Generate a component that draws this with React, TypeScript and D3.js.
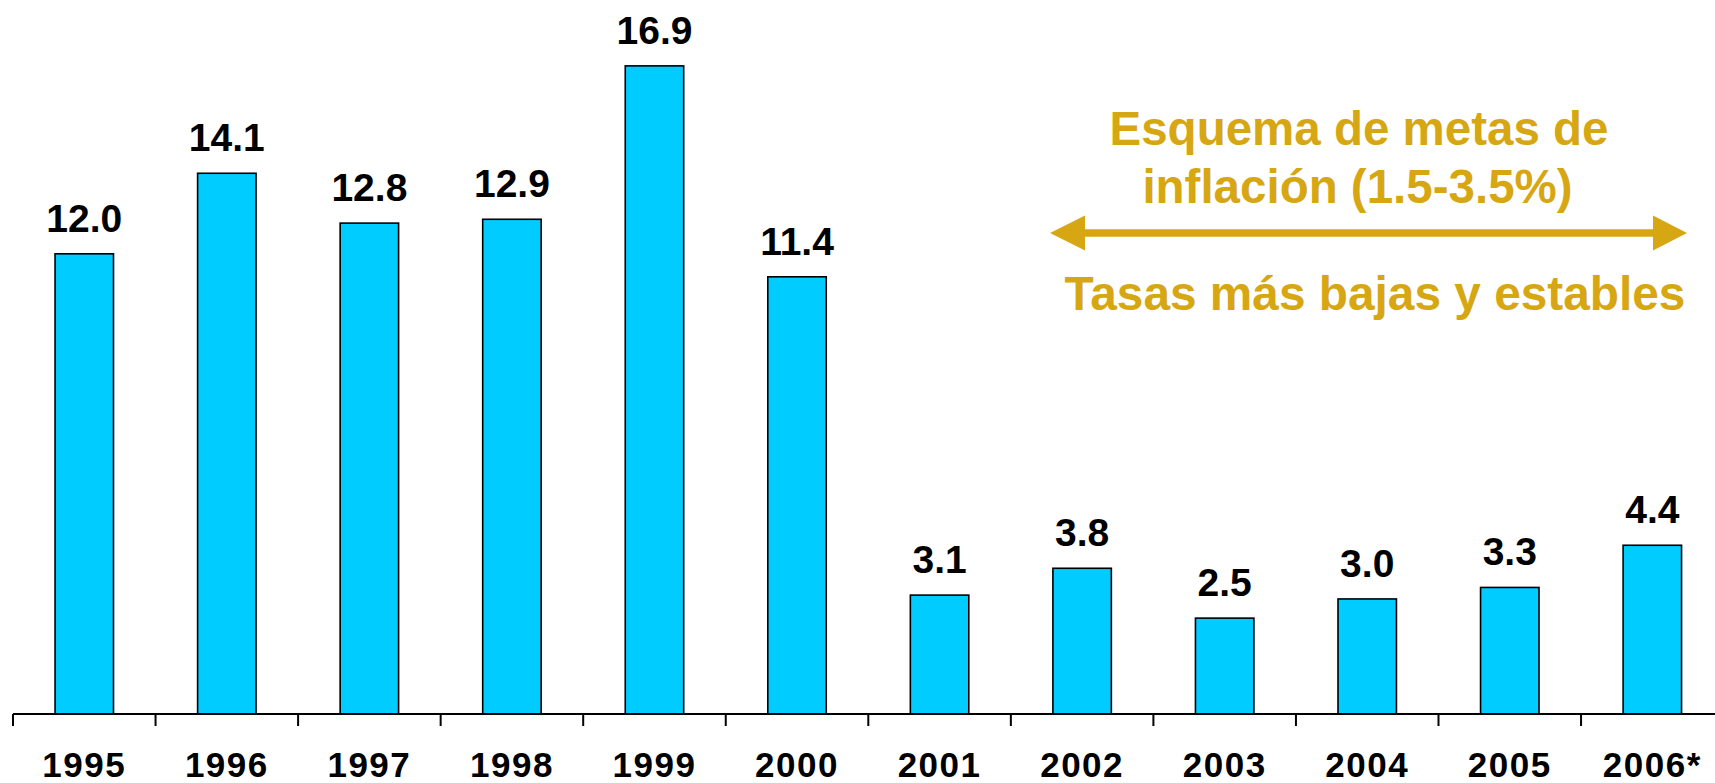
import React from "react";
import * as d3 from "d3";

const years = ["1995", "1996", "1997", "1998", "1999", "2000", "2001", "2002", "2003", "2004", "2005", "2006*"];
const values = [12.0, 14.1, 12.8, 12.9, 16.9, 11.4, 3.1, 3.8, 2.5, 3.0, 3.3, 4.4];
const annotationLines = ["Esquema de metas de", "inflación (1.5-3.5%)"];
const annotationBottom = "Tasas más bajas y estables";

const W = 1715;
const H = 783;
const baseY = 714;
const left = 13;
const step = 142.55;
const FONT = "'Liberation Sans', Arial, Helvetica, sans-serif";
const GOLD = "#D6A712";

export default function App() {
  const x = d3
    .scaleBand<string>()
    .domain(years)
    .range([left, left + step * years.length])
    .paddingInner(0.59)
    .paddingOuter(0.295);
  const y = d3.scaleLinear().domain([0, 18]).range([baseY, baseY - 18 * 38.35]);

  const boundaries = years.map((_, i) => left + i * x.step());
  boundaries.push(left + years.length * x.step());

  return (
    <div style={{ position: "fixed", left: 0, top: 0 }}>
      <svg width={W} height={H} style={{ display: "block", background: "#fff" }}>
        {values.map((v, i) => (
          <g key={years[i]}>
            <rect
              x={x(years[i])}
              y={y(v)}
              width={x.bandwidth()}
              height={y(0) - y(v)}
              fill="#00CCFF"
              stroke="#000"
              strokeWidth={1.6}
            />
            <text
              x={(x(years[i]) as number) + x.bandwidth() / 2}
              y={y(v) - 22}
              textAnchor="middle"
              fontFamily={FONT}
              fontWeight="bold"
              fontSize={39}
              fill="#000"
            >
              {v.toFixed(1)}
            </text>
            <text
              x={(x(years[i]) as number) + x.bandwidth() / 2}
              y={777}
              textAnchor="middle"
              fontFamily={FONT}
              fontWeight="bold"
              fontSize={35}
              letterSpacing={1.5}
              fill="#000"
            >
              {years[i]}
            </text>
          </g>
        ))}
        <line x1={left} x2={W} y1={baseY} y2={baseY} stroke="#000" strokeWidth={2} />
        {boundaries.map((b, i) => (
          <line key={i} x1={b} x2={b} y1={baseY} y2={baseY + 12} stroke="#000" strokeWidth={2} />
        ))}

        {/* annotation */}
        <text x={1359} y={145} textAnchor="middle" fontFamily={FONT} fontWeight="bold" fontSize={47.5} fill={GOLD}>
          {annotationLines[0]}
        </text>
        <text x={1357.5} y={203} textAnchor="middle" fontFamily={FONT} fontWeight="bold" fontSize={47.5} fill={GOLD}>
          {annotationLines[1]}
        </text>
        <line x1={1080} x2={1658} y1={233} y2={233} stroke={GOLD} strokeWidth={7.3} />
        <path d="M1050,233 L1085,215.5 L1085,250.5 Z" fill={GOLD} />
        <path d="M1687,233 L1653,215.5 L1653,250.5 Z" fill={GOLD} />
        <text x={1375} y={310} textAnchor="middle" fontFamily={FONT} fontWeight="bold" fontSize={47.8} fill={GOLD}>
          {annotationBottom}
        </text>
      </svg>
    </div>
  );
}
